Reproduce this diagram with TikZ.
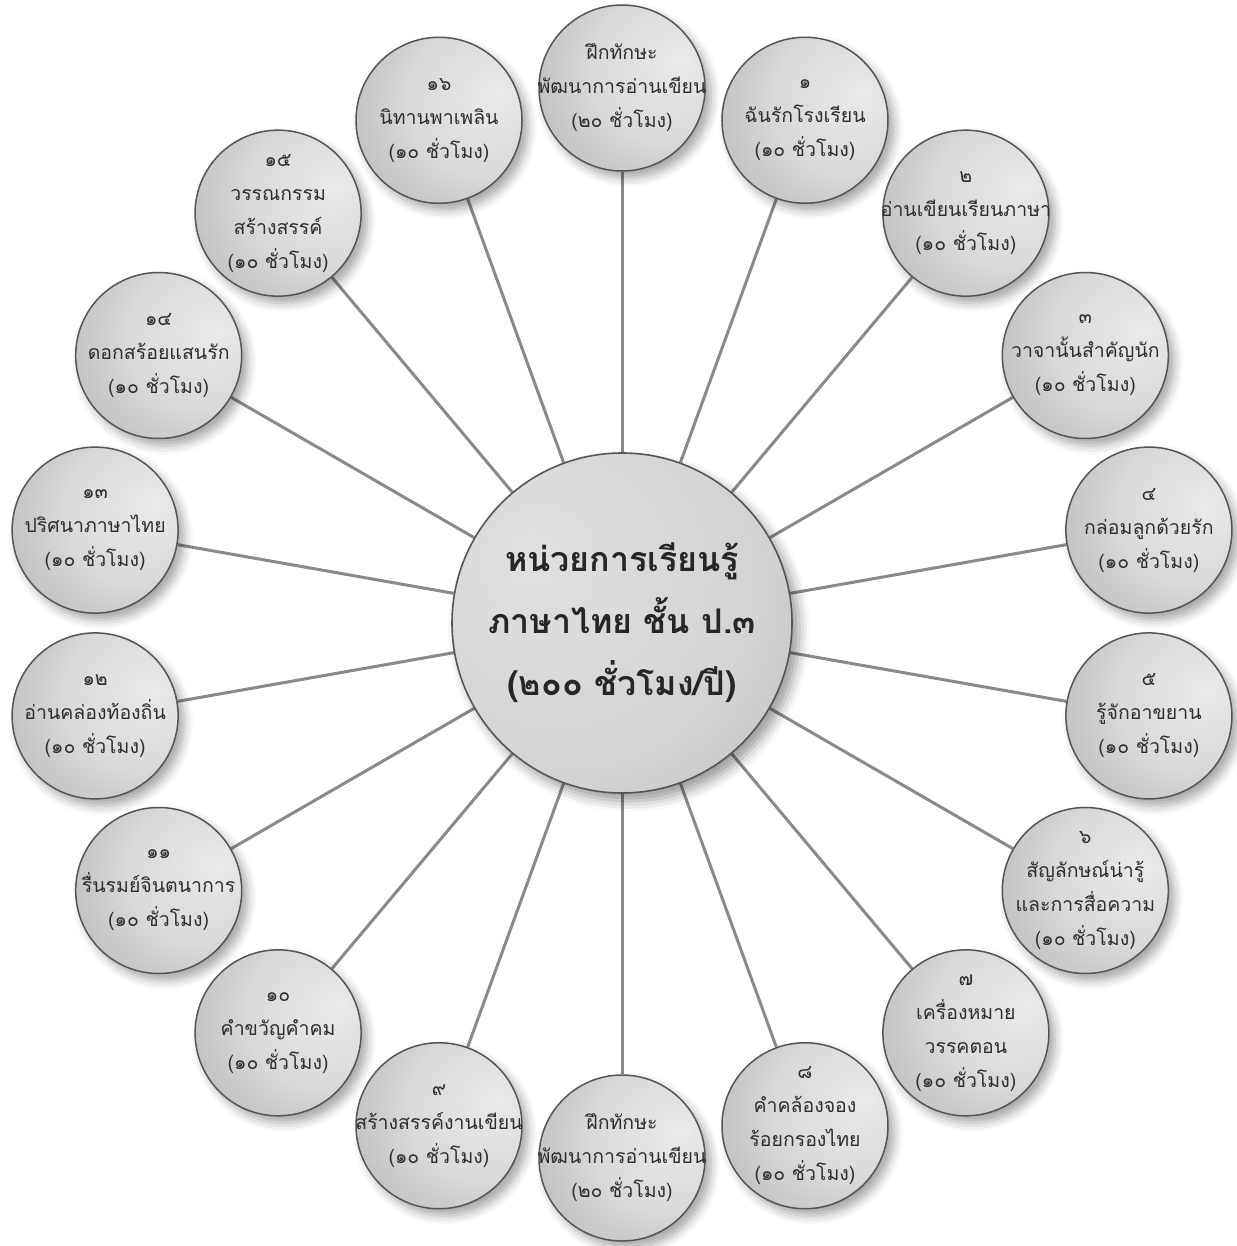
\documentclass[tikz,border=0pt]{standalone}
\usepackage{fontspec}
\newfontfamily\thai[Script=Thai]{Loma}
\usetikzlibrary{shadows.blur,backgrounds}
\pgfdeclareradialshading{outsh}{\pgfpoint{18bp}{8bp}}{color(0bp)=(white!92!black); color(22bp)=(white!85!black); color(50bp)=(white!67!black); color(72bp)=(white!54!black)}
\pgfdeclareradialshading{censh}{\pgfpoint{-14bp}{10bp}}{color(0bp)=(white!88!black); color(28bp)=(white!83!black); color(52bp)=(white!70!black); color(70bp)=(white!56!black)}
\definecolor{edgec}{HTML}{555555}
\definecolor{connc}{HTML}{8A8A8A}
\definecolor{txtc}{HTML}{2E2E2E}
\tikzset{
  bubble/.style={circle, draw=edgec, line width=1.5pt, minimum size=166pt, inner sep=0pt,
    shading=outsh, blur shadow={shadow xshift=6pt, shadow yshift=-7pt, shadow blur radius=9pt, shadow opacity=35}},
  hub/.style={circle, draw=edgec, line width=1.6pt, minimum size=340pt, inner sep=0pt,
    shading=censh, blur shadow={shadow xshift=7pt, shadow yshift=-8pt, shadow blur radius=11pt, shadow opacity=40}},
  btxt/.style={align=center, text=txtc, font=\thai\fontsize{19.5}{34}\selectfont, inner sep=0pt},
  htxt/.style={align=center, text=black!85, font=\thai\bfseries\fontsize{34}{62}\selectfont, inner sep=0pt},
  conn/.style={draw=connc, line width=3pt}
}
\newcommand\bub[3]{%
  \node[bubble] (o#1) at ({622+535*cos(#2)},{623-535*sin(#2)}) {};
  \node[btxt] (t#1) at (o#1) {#3};
}
\begin{document}
\begin{tikzpicture}[x=1pt,y=-1pt]
\useasboundingbox (0,0) rectangle (1236,1246);
\node[hub] (c) at (622,623) {};
\node[htxt] (ct) at (c) {หน่วยการเรียนรู้\\ภาษาไทย ชั้น ป.๓\\(๒๐๐ ชั่วโมง/ปี)};
\bub{0}{90}{ฝึกทักษะ\\พัฒนาการอ่านเขียน\\(๒๐ ชั่วโมง)}
\bub{1}{70}{๑\\ฉันรักโรงเรียน\\(๑๐ ชั่วโมง)}
\bub{2}{50}{๒\\อ่านเขียนเรียนภาษา\\(๑๐ ชั่วโมง)}
\bub{3}{30}{๓\\วาจานั้นสำคัญนัก\\(๑๐ ชั่วโมง)}
\bub{4}{10}{๔\\กล่อมลูกด้วยรัก\\(๑๐ ชั่วโมง)}
\bub{5}{-10}{๕\\รู้จักอาขยาน\\(๑๐ ชั่วโมง)}
\bub{6}{-30}{๖\\สัญลักษณ์น่ารู้\\และการสื่อความ\\(๑๐ ชั่วโมง)}
\bub{7}{-50}{๗\\เครื่องหมาย\\วรรคตอน\\(๑๐ ชั่วโมง)}
\bub{8}{-70}{๘\\คำคล้องจอง\\ร้อยกรองไทย\\(๑๐ ชั่วโมง)}
\bub{9}{-90}{ฝึกทักษะ\\พัฒนาการอ่านเขียน\\(๒๐ ชั่วโมง)}
\bub{10}{-110}{๙\\สร้างสรรค์งานเขียน\\(๑๐ ชั่วโมง)}
\bub{11}{-130}{๑๐\\คำขวัญคำคม\\(๑๐ ชั่วโมง)}
\bub{12}{-150}{๑๑\\รื่นรมย์จินตนาการ\\(๑๐ ชั่วโมง)}
\bub{13}{-170}{๑๒\\อ่านคล่องท้องถิ่น\\(๑๐ ชั่วโมง)}
\bub{14}{170}{๑๓\\ปริศนาภาษาไทย\\(๑๐ ชั่วโมง)}
\bub{15}{150}{๑๔\\ดอกสร้อยแสนรัก\\(๑๐ ชั่วโมง)}
\bub{16}{130}{๑๕\\วรรณกรรม\\สร้างสรรค์\\(๑๐ ชั่วโมง)}
\bub{17}{110}{๑๖\\นิทานพาเพลิน\\(๑๐ ชั่วโมง)}
\begin{scope}[on background layer]
\foreach \i in {0,...,17} { \draw[conn] (c) -- (o\i); }
\end{scope}
\end{tikzpicture}
\end{document}
